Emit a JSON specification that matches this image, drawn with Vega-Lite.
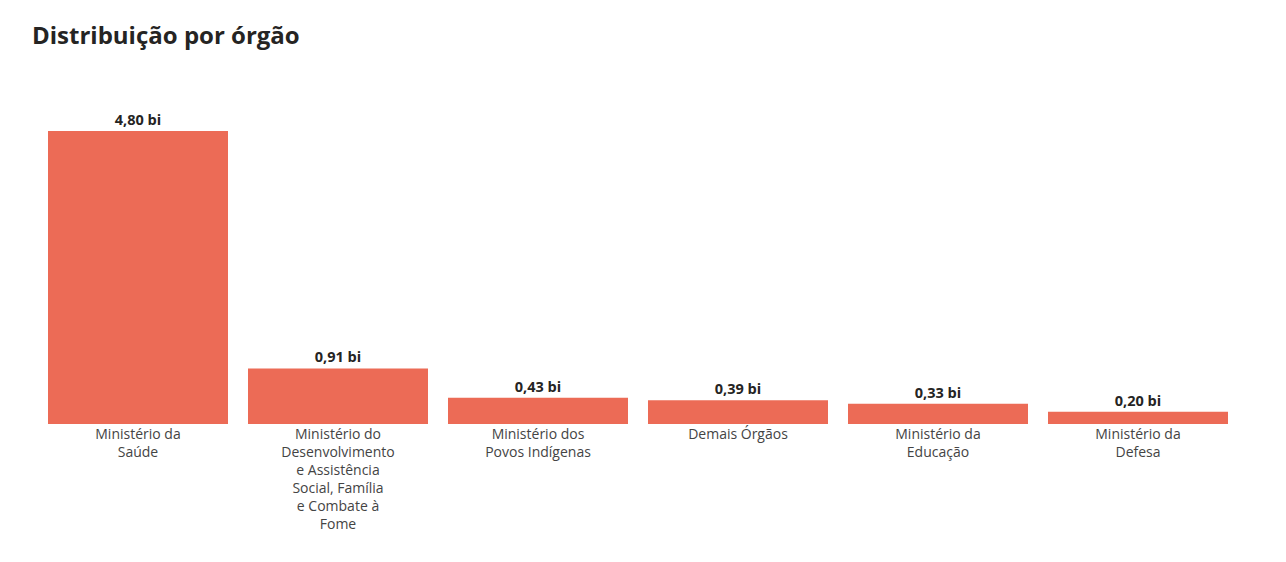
{
  "$schema": "https://vega.github.io/schema/vega-lite/v6.json",
  "autosize": {"type": "none"},
  "width": 1200,
  "height": 293,
  "padding": {"left": 38, "top": 131, "right": 48, "bottom": 138},
  "background": "white",
  "title": {
    "text": "Distribuição por órgão",
    "anchor": "start",
    "frame": "group",
    "font": "Open Sans",
    "fontSize": 24,
    "fontWeight": "bold",
    "color": "#252423",
    "offset": 64,
    "dx": -6
  },
  "config": {"view": {"stroke": null}},
  "data": {
    "values": [
      {"orgao": "Ministério da|Saúde", "valor": 4.80, "rotulo": "4,80 bi"},
      {"orgao": "Ministério do|Desenvolvimento|e Assistência|Social, Família|e Combate à|Fome", "valor": 0.91, "rotulo": "0,91 bi"},
      {"orgao": "Ministério dos|Povos Indígenas", "valor": 0.43, "rotulo": "0,43 bi"},
      {"orgao": "Demais Órgãos", "valor": 0.39, "rotulo": "0,39 bi"},
      {"orgao": "Ministério da|Educação", "valor": 0.33, "rotulo": "0,33 bi"},
      {"orgao": "Ministério da|Defesa", "valor": 0.20, "rotulo": "0,20 bi"}
    ]
  },
  "encoding": {
    "x": {
      "field": "orgao",
      "type": "nominal",
      "sort": null,
      "scale": {"paddingInner": 0.1, "paddingOuter": 0.05},
      "axis": {
        "title": null,
        "domain": false,
        "ticks": false,
        "labelAngle": 0,
        "labelPadding": 3,
        "labelBaseline": "top",
        "labelExpr": "split(datum.label, '|')",
        "labelFont": "Open Sans",
        "labelFontSize": 14,
        "labelLineHeight": 18,
        "labelColor": "#444444",
        "labelLimit": 0
      }
    },
    "y": {
      "field": "valor",
      "type": "quantitative",
      "scale": {"domain": [0, 4.8], "nice": false},
      "axis": null
    }
  },
  "layer": [
    {"mark": {"type": "bar", "color": "#EC6B56"}},
    {
      "mark": {
        "type": "text",
        "baseline": "bottom",
        "dy": -3,
        "font": "Open Sans",
        "fontSize": 14.5,
        "fontWeight": "bold",
        "color": "#252423"
      },
      "encoding": {"text": {"field": "rotulo"}}
    }
  ]
}
